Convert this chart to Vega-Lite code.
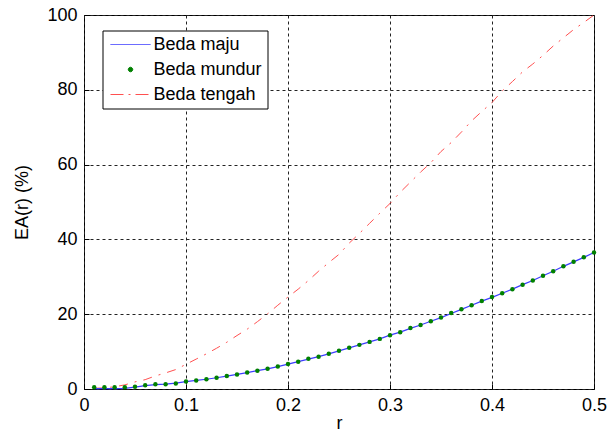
{
  "$schema": "https://vega.github.io/schema/vega-lite/v6.json",
  "width": 510,
  "height": 374,
  "autosize": {"type": "none"},
  "padding": {"left": 84, "top": 15, "right": 22, "bottom": 45},
  "background": "white",
  "data": {
    "values": [
      {"r":0.01,"s":"Beda mundur","v":0.45},{"r":0.02,"s":"Beda mundur","v":0.45},{"r":0.03,"s":"Beda mundur","v":0.45},{"r":0.04,"s":"Beda mundur","v":0.45},{"r":0.05,"s":"Beda mundur","v":0.6},
      {"r":0.06,"s":"Beda mundur","v":1.0},{"r":0.07,"s":"Beda mundur","v":1.25},{"r":0.08,"s":"Beda mundur","v":1.25},{"r":0.09,"s":"Beda mundur","v":1.5},{"r":0.10,"s":"Beda mundur","v":2.0},
      {"r":0.11,"s":"Beda mundur","v":2.3},{"r":0.12,"s":"Beda mundur","v":2.6},{"r":0.13,"s":"Beda mundur","v":3.0},{"r":0.14,"s":"Beda mundur","v":3.5},{"r":0.15,"s":"Beda mundur","v":3.9},
      {"r":0.16,"s":"Beda mundur","v":4.4},{"r":0.17,"s":"Beda mundur","v":4.9},{"r":0.18,"s":"Beda mundur","v":5.4},{"r":0.19,"s":"Beda mundur","v":6.0},{"r":0.20,"s":"Beda mundur","v":6.7},
      {"r":0.21,"s":"Beda mundur","v":7.3},{"r":0.22,"s":"Beda mundur","v":8.1},{"r":0.23,"s":"Beda mundur","v":8.6},{"r":0.24,"s":"Beda mundur","v":9.4},{"r":0.25,"s":"Beda mundur","v":10.2},
      {"r":0.26,"s":"Beda mundur","v":11.0},{"r":0.27,"s":"Beda mundur","v":11.8},{"r":0.28,"s":"Beda mundur","v":12.6},{"r":0.29,"s":"Beda mundur","v":13.4},{"r":0.30,"s":"Beda mundur","v":14.4},
      {"r":0.31,"s":"Beda mundur","v":15.2},{"r":0.32,"s":"Beda mundur","v":16.3},{"r":0.33,"s":"Beda mundur","v":17.1},{"r":0.34,"s":"Beda mundur","v":18.1},{"r":0.35,"s":"Beda mundur","v":19.1},
      {"r":0.36,"s":"Beda mundur","v":20.3},{"r":0.37,"s":"Beda mundur","v":21.3},{"r":0.38,"s":"Beda mundur","v":22.4},{"r":0.39,"s":"Beda mundur","v":23.5},{"r":0.40,"s":"Beda mundur","v":24.6},
      {"r":0.41,"s":"Beda mundur","v":25.6},{"r":0.42,"s":"Beda mundur","v":26.7},{"r":0.43,"s":"Beda mundur","v":27.9},{"r":0.44,"s":"Beda mundur","v":29.0},{"r":0.45,"s":"Beda mundur","v":30.3},
      {"r":0.46,"s":"Beda mundur","v":31.5},{"r":0.47,"s":"Beda mundur","v":32.8},{"r":0.48,"s":"Beda mundur","v":34.0},{"r":0.49,"s":"Beda mundur","v":35.2},{"r":0.50,"s":"Beda mundur","v":36.5},

      {"r":0.01,"s":"Beda maju","v":0.1},{"r":0.02,"s":"Beda maju","v":0.1},{"r":0.03,"s":"Beda maju","v":0.1},{"r":0.04,"s":"Beda maju","v":0.15},{"r":0.05,"s":"Beda maju","v":0.5},
      {"r":0.06,"s":"Beda maju","v":0.9},{"r":0.07,"s":"Beda maju","v":1.15},{"r":0.08,"s":"Beda maju","v":1.3},{"r":0.09,"s":"Beda maju","v":1.55},{"r":0.10,"s":"Beda maju","v":1.95},
      {"r":0.11,"s":"Beda maju","v":2.3},{"r":0.12,"s":"Beda maju","v":2.6},{"r":0.13,"s":"Beda maju","v":3.0},{"r":0.14,"s":"Beda maju","v":3.45},{"r":0.15,"s":"Beda maju","v":3.9},
      {"r":0.16,"s":"Beda maju","v":4.4},{"r":0.17,"s":"Beda maju","v":4.9},{"r":0.18,"s":"Beda maju","v":5.4},{"r":0.19,"s":"Beda maju","v":6.0},{"r":0.20,"s":"Beda maju","v":6.65},
      {"r":0.21,"s":"Beda maju","v":7.3},{"r":0.22,"s":"Beda maju","v":8.0},{"r":0.23,"s":"Beda maju","v":8.65},{"r":0.24,"s":"Beda maju","v":9.4},{"r":0.25,"s":"Beda maju","v":10.2},
      {"r":0.26,"s":"Beda maju","v":11.0},{"r":0.27,"s":"Beda maju","v":11.8},{"r":0.28,"s":"Beda maju","v":12.6},{"r":0.29,"s":"Beda maju","v":13.4},{"r":0.30,"s":"Beda maju","v":14.4},
      {"r":0.31,"s":"Beda maju","v":15.2},{"r":0.32,"s":"Beda maju","v":16.2},{"r":0.33,"s":"Beda maju","v":17.1},{"r":0.34,"s":"Beda maju","v":18.1},{"r":0.35,"s":"Beda maju","v":19.1},
      {"r":0.36,"s":"Beda maju","v":20.2},{"r":0.37,"s":"Beda maju","v":21.3},{"r":0.38,"s":"Beda maju","v":22.4},{"r":0.39,"s":"Beda maju","v":23.5},{"r":0.40,"s":"Beda maju","v":24.5},
      {"r":0.41,"s":"Beda maju","v":25.6},{"r":0.42,"s":"Beda maju","v":26.7},{"r":0.43,"s":"Beda maju","v":27.9},{"r":0.44,"s":"Beda maju","v":29.0},{"r":0.45,"s":"Beda maju","v":30.3},
      {"r":0.46,"s":"Beda maju","v":31.5},{"r":0.47,"s":"Beda maju","v":32.8},{"r":0.48,"s":"Beda maju","v":34.0},{"r":0.49,"s":"Beda maju","v":35.2},{"r":0.50,"s":"Beda maju","v":36.5},

      {"r":0.01,"s":"Beda tengah","v":0.2},{"r":0.02,"s":"Beda tengah","v":0.3},{"r":0.03,"s":"Beda tengah","v":0.6},{"r":0.04,"s":"Beda tengah","v":1.1},{"r":0.05,"s":"Beda tengah","v":1.9},
      {"r":0.06,"s":"Beda tengah","v":2.5},{"r":0.07,"s":"Beda tengah","v":3.5},{"r":0.08,"s":"Beda tengah","v":4.3},{"r":0.09,"s":"Beda tengah","v":5.2},{"r":0.10,"s":"Beda tengah","v":6.6},
      {"r":0.11,"s":"Beda tengah","v":8.0},{"r":0.12,"s":"Beda tengah","v":9.4},{"r":0.13,"s":"Beda tengah","v":10.9},{"r":0.14,"s":"Beda tengah","v":12.5},{"r":0.15,"s":"Beda tengah","v":14.3},
      {"r":0.16,"s":"Beda tengah","v":16.0},{"r":0.17,"s":"Beda tengah","v":18.0},{"r":0.18,"s":"Beda tengah","v":20.1},{"r":0.19,"s":"Beda tengah","v":22.4},{"r":0.20,"s":"Beda tengah","v":24.6},
      {"r":0.21,"s":"Beda tengah","v":26.7},{"r":0.22,"s":"Beda tengah","v":29.0},{"r":0.23,"s":"Beda tengah","v":31.5},{"r":0.24,"s":"Beda tengah","v":33.8},{"r":0.25,"s":"Beda tengah","v":36.0},
      {"r":0.26,"s":"Beda tengah","v":39.0},{"r":0.27,"s":"Beda tengah","v":41.6},{"r":0.28,"s":"Beda tengah","v":44.3},{"r":0.29,"s":"Beda tengah","v":47.0},{"r":0.30,"s":"Beda tengah","v":49.6},
      {"r":0.31,"s":"Beda tengah","v":52.6},{"r":0.32,"s":"Beda tengah","v":55.3},{"r":0.33,"s":"Beda tengah","v":58.0},{"r":0.34,"s":"Beda tengah","v":60.5},{"r":0.35,"s":"Beda tengah","v":63.5},
      {"r":0.36,"s":"Beda tengah","v":65.9},{"r":0.37,"s":"Beda tengah","v":68.7},{"r":0.38,"s":"Beda tengah","v":71.7},{"r":0.39,"s":"Beda tengah","v":74.2},{"r":0.40,"s":"Beda tengah","v":76.6},
      {"r":0.41,"s":"Beda tengah","v":79.7},{"r":0.42,"s":"Beda tengah","v":82.2},{"r":0.43,"s":"Beda tengah","v":84.8},{"r":0.44,"s":"Beda tengah","v":86.9},{"r":0.45,"s":"Beda tengah","v":89.2},
      {"r":0.46,"s":"Beda tengah","v":91.7},{"r":0.47,"s":"Beda tengah","v":93.9},{"r":0.48,"s":"Beda tengah","v":96.1},{"r":0.49,"s":"Beda tengah","v":98.0},{"r":0.50,"s":"Beda tengah","v":100.0}
    ]
  },
  "encoding": {
    "x": {
      "field": "r", "type": "quantitative",
      "scale": {"domain": [0, 0.5], "nice": false, "zero": false},
      "axis": {
        "values": [0, 0.1, 0.2, 0.3, 0.4, 0.5],
        "format": "~g",
        "title": "r",
        "titleY": 39,
        "titleBaseline": "alphabetic"
      }
    },
    "y": {
      "field": "v", "type": "quantitative",
      "scale": {"domain": [0, 100], "nice": false},
      "axis": {
        "values": [0, 20, 40, 60, 80, 100],
        "title": "EA(r) (%)",
        "titleAngle": 270,
        "titleX": -57,
        "titleY": 187,
        "titleAlign": "center",
        "titleBaseline": "alphabetic"
      }
    },
    "color": {
      "field": "s", "type": "nominal",
      "scale": {"domain": ["Beda maju", "Beda mundur", "Beda tengah"], "range": ["#3b3bff", "#008000", "#ff5050"]},
      "legend": {
        "title": null,
        "orient": "none",
        "legendX": 18.5,
        "legendY": 15.5,
        "padding": 5,
        "rowPadding": 7,
        "strokeColor": "#000000",
        "fillColor": "#ffffff",
        "symbolSize": 100,
        "symbolStrokeWidth": 1,
        "symbolOffset": 0,
        "labelOffset": 28,
        "labelFont": "Liberation Sans",
        "labelFontSize": 18,
        "labelColor": "#000000",
        "encode": {
          "symbols": {
            "update": {
              "shape": {"signal": "datum.value === 'Beda mundur' ? 'M2.35,0a0.45,0.45 0 1,0 0.9,0a0.45,0.45 0 1,0 -0.9,0' : 'M-1.2,0H6.8'"},
              "fill": {"signal": "datum.value === 'Beda mundur' ? '#008000' : 'transparent'"},
              "stroke": {"signal": "datum.value === 'Beda maju' ? '#3b3bff' : (datum.value === 'Beda mundur' ? '#008000' : '#ff5050')"},
              "strokeDash": {"signal": "datum.value === 'Beda tengah' ? [13, 5, 2, 5] : [1, 0]"},
              "strokeWidth": {"value": 1},
              "opacity": {"value": 1}
            }
          }
        }
      }
    }
  },
  "layer": [
    {
      "transform": [{"filter": "datum.s === 'Beda tengah'"}],
      "mark": {"type": "line", "strokeWidth": 1, "strokeDash": [9, 7, 2, 7]}
    },
    {
      "transform": [{"filter": "datum.s === 'Beda maju'"}],
      "mark": {"type": "line", "strokeWidth": 1.2}
    },
    {
      "transform": [{"filter": "datum.s === 'Beda mundur'"}],
      "mark": {"type": "point", "filled": true, "size": 20, "opacity": 1, "shape": "circle"}
    }
  ],
  "config": {
    "view": {"stroke": "#000000", "strokeWidth": 1},
    "axis": {
      "domain": false,
      "grid": true,
      "gridColor": "#222222",
      "gridDash": [3, 3],
      "gridOpacity": 1,
      "gridWidth": 1,
      "ticks": true,
      "tickColor": "#000000",
      "tickSize": -5,
      "labelPadding": 12,
      "labelFlush": false,
      "labelOverlap": false,
      "labelFont": "Liberation Sans",
      "labelFontSize": 18,
      "labelColor": "#000000",
      "titleFont": "Liberation Sans",
      "titleFontSize": 18,
      "titleFontWeight": "normal",
      "titleColor": "#000000"
    }
  }
}
